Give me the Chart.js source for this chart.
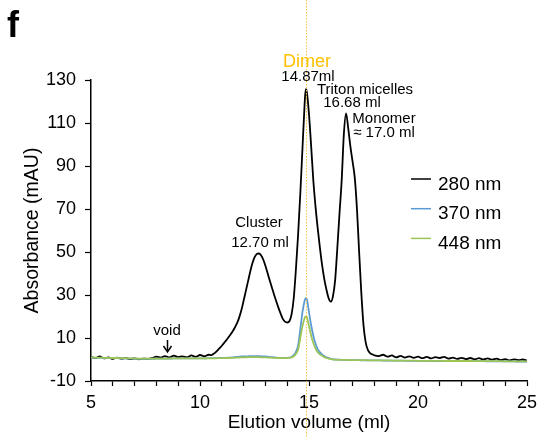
<!DOCTYPE html>
<html>
<head>
<meta charset="utf-8">
<script src="https://cdn.jsdelivr.net/npm/chart.js@4.4.1/dist/chart.umd.min.js"></script>
<style>
  html, body { margin: 0; padding: 0; background: #fff; }
  #wrap { width: 538px; height: 437px; }
</style>
</head>
<body>
<div id="wrap"><canvas id="secChart" width="538" height="437"></canvas></div>
<script>
// elution volume (ml) - denser sampling across the peaks
const volumes = [
    5.0, 5.2, 5.4, 5.6, 5.8, 6.0, 6.2, 6.4, 6.6, 6.8,
    7.0, 7.2, 7.4, 7.6, 7.8, 8.0, 8.2, 8.4, 8.6, 8.8,
    9.0, 9.2, 9.4, 9.6, 9.8, 10.0, 10.2, 10.4,
    10.5, 10.6, 10.7, 10.8, 10.9,
    11.0, 11.1, 11.2, 11.3, 11.4, 11.5, 11.6, 11.7, 11.8, 11.9,
    12.0, 12.1, 12.2, 12.3, 12.4, 12.5, 12.6, 12.7, 12.8, 12.9,
    13.0, 13.1, 13.2, 13.3, 13.4, 13.5, 13.6, 13.7, 13.8, 13.9,
    14.0, 14.1, 14.2, 14.3, 14.4, 14.5, 14.6, 14.7, 14.8, 14.85, 14.9,
    15.0, 15.1, 15.2, 15.3, 15.4, 15.5, 15.6, 15.7, 15.8, 15.9,
    16.0, 16.1, 16.2, 16.3, 16.4, 16.5, 16.6, 16.7, 16.8, 16.9,
    17.0, 17.1, 17.2, 17.3, 17.4, 17.5, 17.6, 17.7, 17.8, 17.9,
    18.0,
    18.2, 18.4, 18.6, 18.8, 19.0, 19.2, 19.4, 19.6, 19.8, 20.0,
    20.2, 20.4, 20.6, 20.8, 21.0, 21.2, 21.4, 21.6, 21.8, 22.0,
    22.2, 22.4, 22.6, 22.8, 23.0, 23.2, 23.4, 23.6, 23.8, 24.0,
    24.2, 24.4, 24.6, 24.8, 25.0
];

// absorbance (mAU) at 280 nm
const abs280 = [
    1.2, 0.6, 1.4, 0.5, 1.0, 0.3, 0.9, 0.4, 0.7, 0.2,
    0.5, 0.1, 0.4, 0.3, 0.6, 1.3, 0.9, 1.6, 1.0, 1.8,
    1.1, 1.5, 1.0, 1.9, 1.2, 2.1, 1.5, 2.2,
    2.0, 2.5, 3.2, 4.2, 5.3,
    6.4, 7.6, 8.9, 10.2, 11.6, 13.1, 14.9, 16.9, 19.6, 23.0,
    27.3, 31.8, 36.2, 40.7, 44.6, 47.5, 49.0, 49.3, 48.5, 46.5,
    43.6, 40.2, 36.7, 33.4, 30.1, 27.0, 24.0, 21.3, 18.9, 17.6,
    17.2, 17.8, 21.0, 28.5, 42.0, 58.0, 77.0, 98.0, 119.0, 125.7, 124.5,
    114.0, 99.0, 83.0, 71.0, 61.0, 52.0, 44.0, 37.5, 32.5, 28.5,
    26.9, 29.5, 37.0, 52.0, 68.0, 83.5, 105.0, 114.5, 107.5, 99.0,
    92.0, 84.5, 70.0, 50.0, 31.0, 16.0, 8.0, 4.5, 3.0, 2.4,
    1.9,
    1.6, 2.2, 1.3, 1.9, 1.0, 1.7, 0.9, 1.5, 0.8, 1.3,
    0.6, 1.2, 0.5, 1.1, 0.7, 1.2, 0.4, 0.9, 0.3, 0.8,
    0.2, 0.7, 0.1, 0.6, 0.0, 0.5, -0.1, 0.4, -0.3, 0.2,
    -0.4, 0.1, -0.3, 0.0, -0.4
];

// absorbance (mAU) at 370 nm
const abs370 = [
    0.9, 0.8, 0.8, 0.7, 0.7, 0.6, 0.6, 0.5, 0.5, 0.4,
    0.4, 0.3, 0.3, 0.3, 0.3, 0.4, 0.4, 0.4, 0.4, 0.5,
    0.5, 0.5, 0.5, 0.5, 0.5, 0.5, 0.5, 0.6,
    0.6, 0.6, 0.6, 0.7, 0.7,
    0.7, 0.8, 0.8, 0.9, 0.9, 1.0, 1.1, 1.2, 1.3, 1.4,
    1.4, 1.5, 1.5, 1.6, 1.6, 1.6, 1.6, 1.6, 1.5, 1.5,
    1.4, 1.3, 1.2, 1.1, 1.0, 0.9, 0.8, 0.7, 0.7, 0.7,
    0.8, 0.9, 1.2, 2.0, 3.5, 6.5, 14.0, 22.0, 27.3, 28.5, 28.0,
    22.0, 15.8, 11.0, 7.3, 4.8, 3.4, 2.4, 1.6, 1.0, 0.6,
    0.3, 0.1, 0.0, -0.1, -0.1, -0.2, -0.2, -0.2, -0.3, -0.3,
    -0.3, -0.3, -0.3, -0.3, -0.4, -0.4, -0.4, -0.4, -0.4, -0.4,
    -0.4,
    -0.4, -0.5, -0.5, -0.5, -0.5, -0.5, -0.6, -0.6, -0.6, -0.6,
    -0.6, -0.6, -0.7, -0.7, -0.7, -0.7, -0.7, -0.7, -0.8, -0.8,
    -0.8, -0.8, -0.8, -0.8, -0.8, -0.9, -0.9, -0.9, -0.9, -0.9,
    -0.9, -0.9, -1.0, -1.0, -1.0
];

// absorbance (mAU) at 448 nm
const abs448 = [
    1.0, 0.9, 0.9, 0.8, 0.8, 0.7, 0.7, 0.6, 0.6, 0.5,
    0.5, 0.4, 0.4, 0.4, 0.4, 0.4, 0.4, 0.4, 0.5, 0.5,
    0.5, 0.5, 0.5, 0.5, 0.5, 0.5, 0.5, 0.5,
    0.5, 0.5, 0.5, 0.6, 0.6,
    0.6, 0.6, 0.7, 0.7, 0.7, 0.8, 0.8, 0.9, 0.9, 1.0,
    1.0, 1.0, 1.1, 1.1, 1.1, 1.1, 1.1, 1.1, 1.0, 1.0,
    1.0, 0.9, 0.9, 0.8, 0.8, 0.7, 0.7, 0.6, 0.6, 0.6,
    0.7, 0.8, 1.0, 1.5, 2.6, 4.7, 10.0, 15.5, 19.3, 20.1, 19.7,
    15.5, 11.0, 7.7, 5.1, 3.4, 2.4, 1.7, 1.1, 0.7, 0.4,
    0.2, 0.0, -0.1, -0.1, -0.2, -0.2, -0.2, -0.2, -0.2, -0.3,
    -0.3, -0.3, -0.3, -0.3, -0.3, -0.3, -0.3, -0.4, -0.4, -0.4,
    -0.4,
    -0.4, -0.4, -0.4, -0.5, -0.5, -0.5, -0.5, -0.5, -0.5, -0.6,
    -0.6, -0.6, -0.6, -0.6, -0.6, -0.7, -0.7, -0.7, -0.7, -0.7,
    -0.7, -0.7, -0.8, -0.8, -0.8, -0.8, -0.8, -0.8, -0.8, -0.9,
    -0.9, -0.9, -0.9, -0.9, -0.9
];

const seriesLabels = ['280 nm', '370 nm', '448 nm'];
const seriesColors = ['#000000', '#5b9bd5', '#9cc556'];
const dimerVolume = 14.87;
const voidVolume = 8.5;

const FONT = '"Liberation Sans", Arial, Helvetica, sans-serif';

function toPoints(values) {
    return volumes.map((v, i) => ({ x: v, y: values[i] }));
}

// Text labels, dotted dimer marker, void arrow and the legend
const annotationPlugin = {
    id: 'secAnnotations',
    afterDatasetsDraw(chart) {
        const ctx = chart.ctx;
        const xScale = chart.scales.x;

        // dotted marker through the dimer peak
        const dx = Math.round(xScale.getPixelForValue(dimerVolume)) + 0.5;
        ctx.save();
        ctx.strokeStyle = '#f6c445';
        ctx.lineWidth = 1;
        ctx.setLineDash([1.5, 1.5]);
        ctx.beginPath();
        ctx.moveTo(dx, 0);
        ctx.lineTo(dx, chart.height);
        ctx.stroke();
        ctx.restore();
    },
    afterDraw(chart) {
        const ctx = chart.ctx;
        const xScale = chart.scales.x;
        ctx.save();
        ctx.textBaseline = 'alphabetic';

        // panel letter
        ctx.fillStyle = '#000';
        ctx.textAlign = 'left';
        ctx.font = 'bold 36px ' + FONT;
        ctx.fillText('f', 7, 37);

        // peak labels
        ctx.textAlign = 'center';
        ctx.fillStyle = '#ffc000';
        ctx.font = '18px ' + FONT;
        ctx.fillText('Dimer', 307, 67);

        ctx.fillStyle = '#000';
        ctx.font = '15px ' + FONT;
        ctx.fillText('14.87ml', 308, 81);
        ctx.fillText('Triton micelles', 365, 94);
        ctx.fillText('16.68 ml', 352, 107);
        ctx.fillText('Monomer', 384, 123);
        ctx.fillText('\u2248 17.0 ml', 384, 137);
        ctx.fillText('Cluster', 259, 227);
        ctx.fillText('12.70 ml', 260, 247);
        ctx.fillText('void', 167, 335);

        // void arrow
        const vx = Math.round(xScale.getPixelForValue(voidVolume)) + 0.5;
        ctx.strokeStyle = '#000';
        ctx.lineWidth = 1.5;
        ctx.beginPath();
        ctx.moveTo(vx, 340);
        ctx.lineTo(vx, 351);
        ctx.stroke();
        ctx.beginPath();
        ctx.moveTo(vx - 4, 346);
        ctx.lineTo(vx, 352);
        ctx.lineTo(vx + 4, 346);
        ctx.stroke();

        // legend
        ctx.textAlign = 'left';
        ctx.font = '19px ' + FONT;
        chart.data.datasets.forEach((ds, i) => {
            const ly = 179 + i * 29.7;
            ctx.strokeStyle = ds.borderColor;
            ctx.lineWidth = 1.5;
            ctx.beginPath();
            ctx.moveTo(411, ly);
            ctx.lineTo(431, ly);
            ctx.stroke();
            ctx.fillStyle = '#000';
            ctx.fillText(ds.label, 438, ly + 10.5);
        });
        ctx.restore();
    }
};

const datasets = [abs280, abs370, abs448].map((values, i) => ({
    label: seriesLabels[i],
    data: toPoints(values),
    borderColor: seriesColors[i],
    borderWidth: 1.8,
    pointRadius: 0,
    cubicInterpolationMode: 'monotone',
    order: 3 - i, // 448 nm drawn on top
}));

const ctx = document.getElementById('secChart').getContext('2d');
new Chart(ctx, {
    type: 'line',
    data: { datasets: datasets },
    options: {
        responsive: false,
        animation: false,
        devicePixelRatio: 1,
        layout: { padding: { left: 0, right: 0, top: 80, bottom: 0 } },
        plugins: {
            legend: { display: false },
            tooltip: { enabled: false },
        },
        scales: {
            x: {
                type: 'linear',
                min: 5,
                max: 25,
                border: { color: '#000', width: 1.5 },
                grid: {
                    drawOnChartArea: false, // ticks only
                    tickLength: 5,
                    tickColor: '#000',
                    tickWidth: 1.2,
                },
                ticks: {
                    stepSize: 1,
                    autoSkip: false,
                    maxRotation: 0,
                    padding: 6,
                    color: '#000',
                    font: { family: FONT, size: 18 },
                    callback: (v) => (v % 5 === 0 ? v : ''),
                },
                title: {
                    display: true,
                    text: 'Elution volume (ml)',
                    color: '#000',
                    font: { family: FONT, size: 19 },
                    padding: { top: 0, bottom: 3 },
                },
                afterFit: (scale) => {
                    scale.height = 56;
                    scale.paddingRight = 11; // keep the axis end at 25 close to the edge
                },
            },
            y: {
                min: -10,
                max: 130,
                border: { color: '#000', width: 1.5 },
                grid: {
                    drawOnChartArea: false,
                    tickLength: 6,
                    tickColor: '#000',
                    tickWidth: 1.2,
                },
                ticks: {
                    stepSize: 20,
                    padding: 9,
                    color: '#000',
                    font: { family: FONT, size: 18 },
                },
                title: {
                    display: true,
                    text: 'Absorbance (mAU)',
                    color: '#000',
                    font: { family: FONT, size: 19.5 },
                    padding: { top: 21, bottom: 0 },
                },
                afterFit: (scale) => { scale.width = 91; },
            },
        },
    },
    plugins: [annotationPlugin],
});
</script>
</body>
</html>
